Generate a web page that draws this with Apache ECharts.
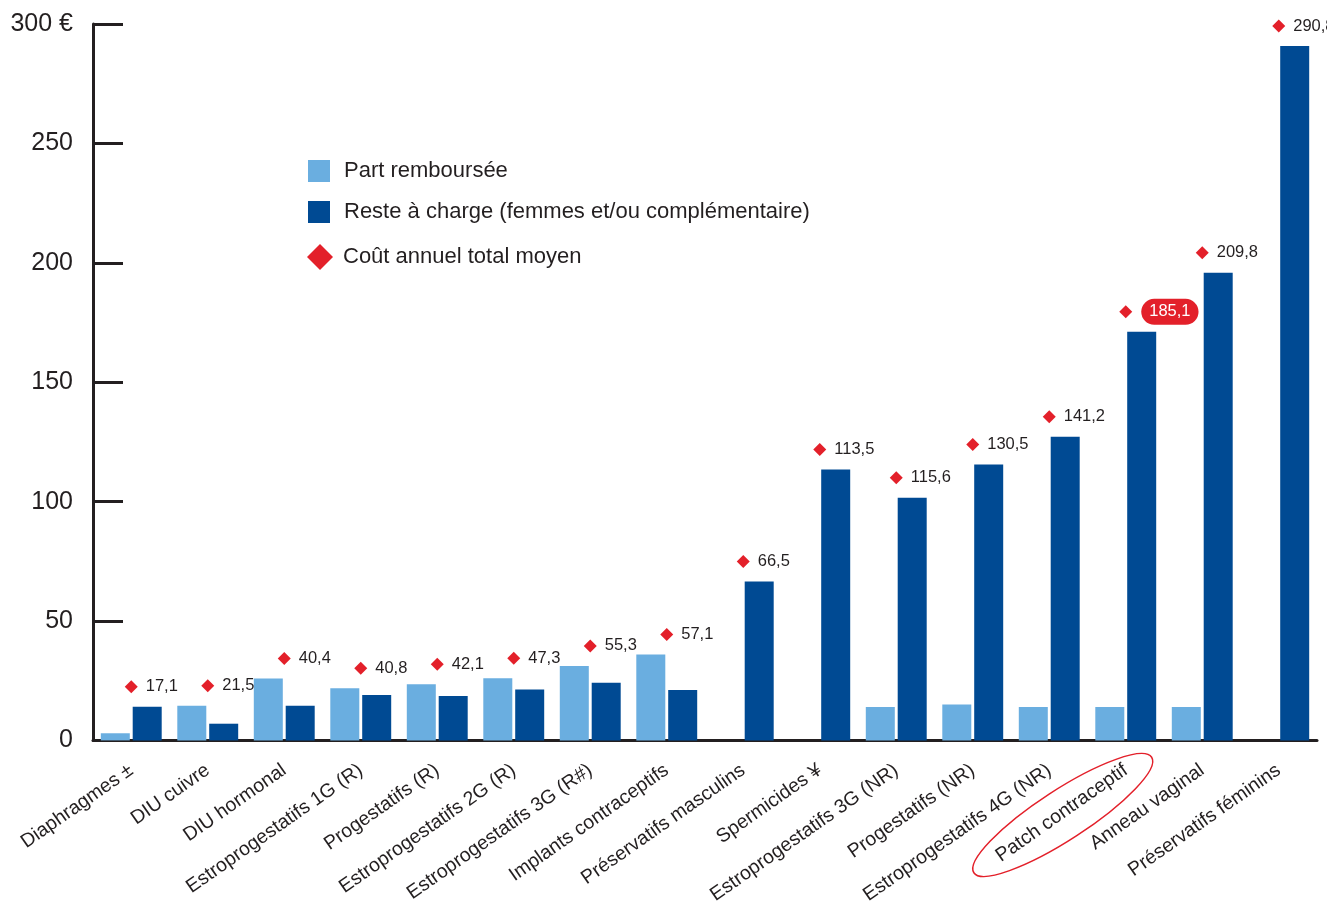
<!DOCTYPE html>
<html><head><meta charset="utf-8">
<script src="https://cdn.jsdelivr.net/npm/echarts@6/dist/echarts.min.js"></script>
<style>html,body{margin:0;padding:0;background:#fff}#c{width:1327px;height:907px;overflow:hidden}</style>
</head><body><div id="c"></div>
<script>
const categories = ['Diaphragmes ±','DIU cuivre','DIU hormonal','Estroprogestatifs 1G (R)','Progestatifs (R)','Estroprogestatifs 2G (R)','Estroprogestatifs 3G (R#)','Implants contraceptifs','Préservatifs masculins','Spermicides ¥','Estroprogestatifs 3G (NR)','Progestatifs (NR)','Estroprogestatifs 4G (NR)','Patch contraceptif','Anneau vaginal','Préservatifs féminins'];
const partRemboursee = [3.0,14.5,25.9,21.8,23.5,26.0,31.2,36.0,0,0,14.0,15.0,14.0,14.0,14.0,0];
const resteACharge = [14.1,7.0,14.5,19.0,18.6,21.3,24.1,21.1,66.5,113.5,101.6,115.5,127.2,171.1,195.8,290.8];
const coutTotal = [17.1,21.5,40.4,40.8,42.1,47.3,55.3,57.1,66.5,113.5,115.6,130.5,141.2,185.1,209.8,290.8];
const yTicks = {min:0, max:300, interval:50};
const highlighted = 'Patch contraceptif';

const FONT = "'Liberation Sans', Arial, Helvetica, sans-serif";
const INK = '#231f20';
const LIGHT = '#6aaee0';
const DARK = '#004a93';
const RED = '#e3202a';
const fmt = v => String(v).replace('.', ',');
const S1 = 'Part remboursée', S2 = 'Reste à charge (femmes et/ou complémentaire)', S3 = 'Coût annuel total moyen';

const chart = echarts.init(document.getElementById('c'), null, {renderer:'canvas'});
const hiIdx = categories.indexOf(highlighted);

chart.setOption({
  animation:false,
  textStyle:{fontFamily:FONT},
  grid:{left:93, right:10, top:24, bottom:165, containLabel:false},
  legend:[{
    orient:'vertical', left:303, top:155, itemWidth:22, itemHeight:22, itemGap:19,
    textStyle:{fontSize:22, lineHeight:22, color:INK, fontFamily:FONT, padding:[0,0,0,9]},
    data:[{name:S1, icon:'rect'},{name:S2, icon:'rect'}]
  },{
    orient:'vertical', left:302, top:239, itemWidth:26, itemHeight:26,
    textStyle:{fontSize:22, lineHeight:22, color:INK, fontFamily:FONT, padding:[0,0,0,5]},
    data:[{name:S3, icon:'diamond'}]
  }],
  xAxis:{
    type:'category', data:categories,
    axisLine:{lineStyle:{color:INK, width:3}},
    axisTick:{inside:true, length:18, lineStyle:{color:INK, width:2}},
    axisLabel:{rotate:35, fontSize:19.5, color:INK, margin:28, interval:0, fontFamily:FONT}
  },
  yAxis:{
    type:'value', min:yTicks.min, max:yTicks.max, interval:yTicks.interval,
    axisLine:{show:true, lineStyle:{color:INK, width:3}},
    axisTick:{show:true, inside:true, length:30, lineStyle:{color:INK, width:3}},
    splitLine:{show:false},
    axisLabel:{fontSize:25, color:INK, margin:20, fontFamily:FONT,
      formatter: v => v === yTicks.max ? v + ' €' : String(v)}
  },
  series:[
    {name:S1, type:'bar', barWidth:29, barGap:'10%', itemStyle:{color:LIGHT},
     data: partRemboursee.map(v => v || '-')},
    {name:S2, type:'bar', barWidth:29, itemStyle:{color:DARK},
     data: resteACharge.map(v => v || '-')},
    {name:S3, type:'scatter', symbol:'diamond', symbolSize:13, symbolOffset:[0,-20],
     itemStyle:{color:RED, opacity:1}, z:5,
     label:{show:true, position:'right', distance:8, fontSize:16.5, color:INK, fontFamily:FONT,
       formatter: p => fmt(coutTotal[p.dataIndex])},
     data: categories.map((c,i) => {
       const item = {value: Math.max(partRemboursee[i], resteACharge[i])};
       if (i === hiIdx) item.label = {color:'#fff', backgroundColor:RED, borderRadius:13, padding:[5,8,4,8], distance:9};
       return item;
     })}
  ]
});

// highlight ellipse around the axis label
const cx = chart.convertToPixel({xAxisIndex:0}, highlighted);
chart.setOption({graphic:[{type:'ellipse', x:cx - 63, y:815, rotation:33*Math.PI/180,
  shape:{cx:0, cy:0, rx:106, ry:25}, style:{fill:'none', stroke:RED, lineWidth:1.5}, z:10}]});
</script></body></html>
